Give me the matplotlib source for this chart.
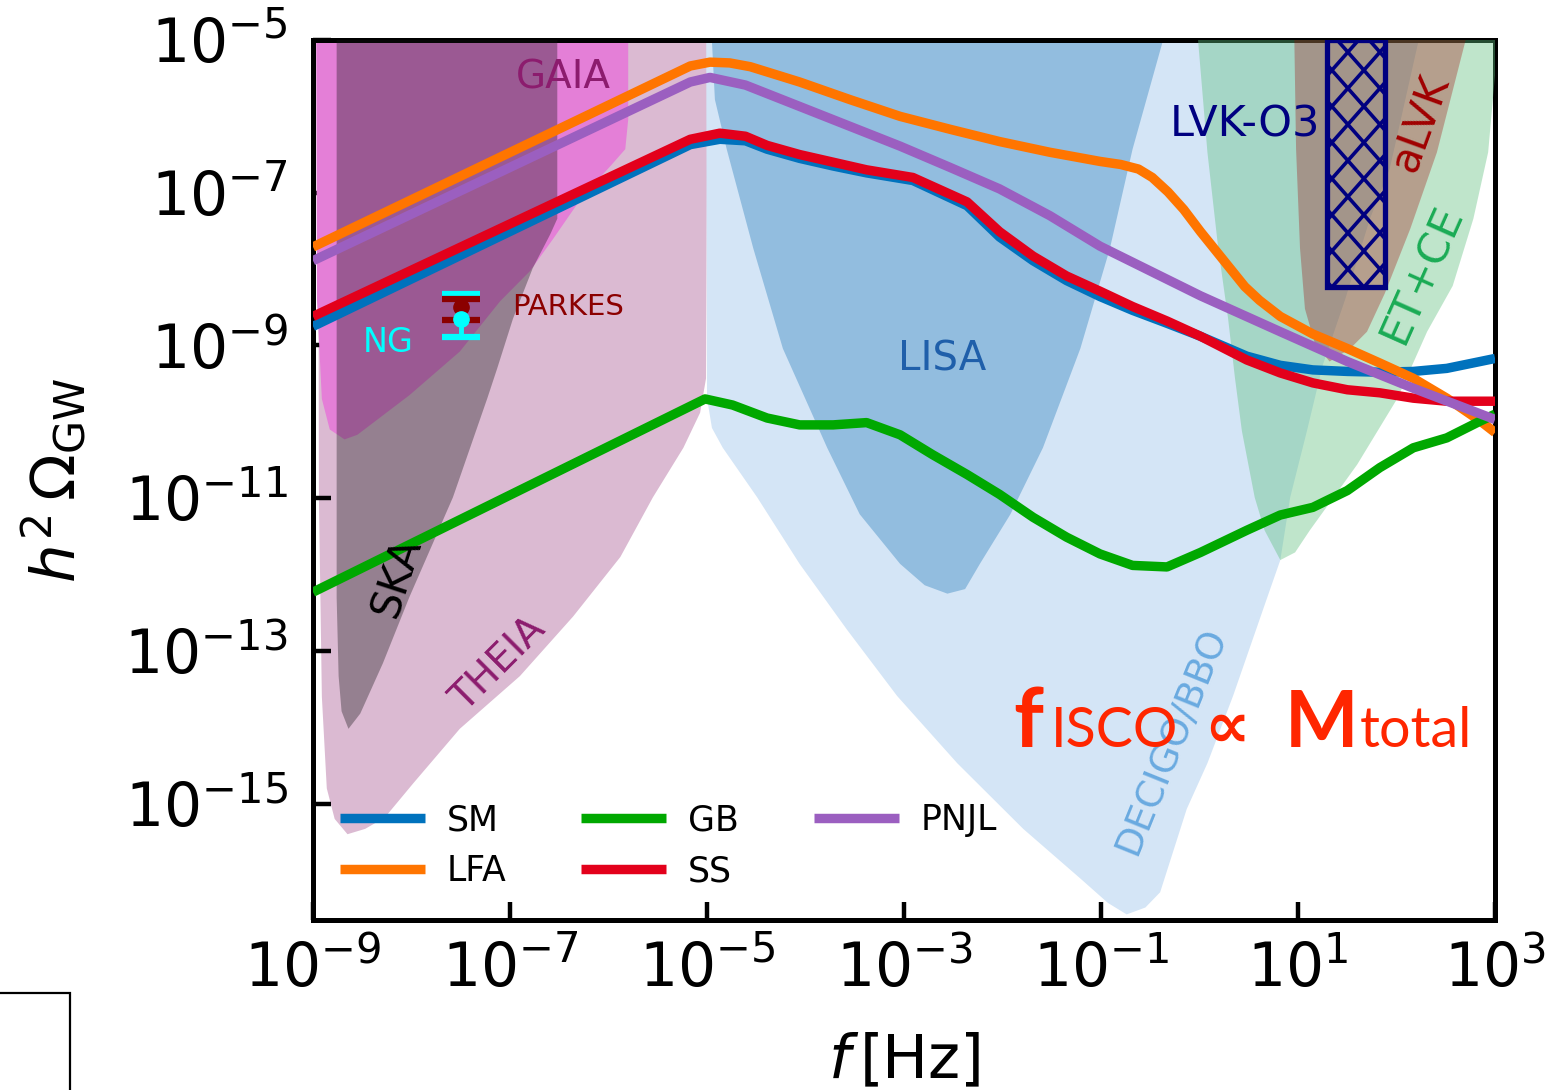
import numpy as np
import matplotlib
matplotlib.use("Agg")
import matplotlib.pyplot as plt
from matplotlib.patches import Rectangle

# everything below is log10(f / Hz) and log10(h^2 Omega_GW)

# detector sensitivity regions
theia_logf = [-8.95, -8.94, -8.91, -8.86, -8.78, -8.65, -8.47, -8.27, -7.98, -7.51,
              -6.90, -6.36, -5.88, -5.55, -5.24, -5.07, -5.01, -4.99]
theia_logom = [-4.0, -11.0, -13.6, -14.8, -15.2, -15.4, -15.33, -15.18, -14.73, -14.02,
               -13.33, -12.55, -11.77, -10.99, -10.34, -9.88, -9.43, -4.0]

gaia_logf = [-8.97, -8.96, -8.91, -8.83, -8.68, -8.55, -8.02, -7.51, -7.10, -6.80,
             -6.56, -6.26, -5.98, -5.83, -5.80, -5.80]
gaia_logom = [-4.0, -8.4, -9.7, -10.1, -10.23, -10.17, -9.65, -9.08, -8.42, -8.03,
              -7.60, -7.04, -6.65, -6.43, -6.04, -4.0]

ska_logf = [-8.76, -8.76, -8.74, -8.71, -8.64, -8.52, -8.29, -8.02, -7.58, -7.23,
            -7.13, -6.97, -6.77, -6.59, -6.52, -6.52]
ska_logom = [-4.0, -12.3, -13.33, -13.79, -14.02, -13.82, -13.16, -12.29, -10.99, -9.69,
             -9.30, -8.65, -7.99, -7.54, -7.34, -4.0]

decigo_logf = [-5.01, -5.00, -4.95, -4.84, -4.49, -4.06, -3.58, -3.07, -2.46, -1.79,
               -1.21, -0.93, -0.74, -0.55, -0.40, -0.13, 0.08, 0.34, 0.69, 0.82,
               0.92, 1.09, 1.25, 1.48, 1.73, 1.93, 2.4]
decigo_logom = [-4.0, -9.69, -10.08, -10.34, -10.99, -11.86, -12.72, -13.59, -14.47, -15.33,
                -15.98, -16.3, -16.45, -16.36, -16.16, -15.07, -14.47, -13.59, -12.29, -11.81,
                -10.99, -10.12, -9.26, -8.39, -7.34, -6.69, -4.0]

lisa_logf = [-4.99, -4.92, -4.80, -4.53, -4.23, -3.78, -3.45, -3.04, -2.79, -2.56,
             -2.38, -2.23, -1.92, -1.59, -1.21, -0.91, -0.68, -0.37, -0.25]
lisa_logom = [-4.0, -5.78, -6.43, -7.73, -9.04, -10.34, -11.21, -11.86, -12.14, -12.25,
              -12.19, -11.86, -11.21, -10.34, -9.04, -7.73, -6.43, -5.0, -4.0]

etce_logf = [-0.08, 0.08, 0.19, 0.29, 0.36, 0.43, 0.56, 0.66, 0.82, 0.97,
             1.12, 1.60, 2.01, 2.31, 2.57, 2.78, 2.93, 3.1]
etce_logom = [-4.0, -6.47, -7.73, -8.65, -9.43, -10.12, -10.99, -11.42, -11.81, -11.71,
              -11.42, -10.56, -9.69, -8.82, -8.22, -7.34, -6.47, -4.0]

alvk_logf = [0.95, 0.98, 1.02, 1.07, 1.17, 1.32, 1.53, 1.70, 1.88, 2.14, 2.41, 2.9]
alvk_logom = [-4.0, -6.43, -7.73, -8.52, -8.97, -9.21, -9.04, -8.82, -8.32, -7.47, -6.47, -4.0]

# LVK O3 upper limit box (Hz, h^2 Omega)
lvk_f = [19.5, 76.0]
lvk_om = [5.8e-9, 1e-5]

# PTA points: f, central value, lower, upper (log10)
ng_f, ng_om, ng_lo, ng_hi = 3.2e-8, -8.65, -8.89, -8.33
parkes_f, parkes_om, parkes_lo, parkes_hi = 3.2e-8, -8.49, -8.66, -8.39

# spectra
sm_logf = [-9.0, -5.17, -4.87, -4.61, -4.39, -4.06, -3.72, -3.38, -2.91, -2.36,
           -2.03, -1.69, -1.35, -1.01, -0.68, -0.33, 0.01, 0.48, 0.82, 1.15,
           1.50, 1.83, 2.17, 2.51, 2.85, 3.0]
sm_logom = [-8.75, -6.37, -6.30, -6.32, -6.43, -6.55, -6.65, -6.74, -6.84, -7.17,
            -7.58, -7.89, -8.15, -8.36, -8.54, -8.71, -8.88, -9.14, -9.26, -9.32,
            -9.34, -9.35, -9.34, -9.30, -9.21, -9.17]

ss_logf = [-9.0, -5.17, -4.87, -4.61, -4.39, -4.06, -3.72, -3.38, -2.91, -2.36,
           -2.03, -1.69, -1.35, -1.01, -0.68, -0.33, 0.01, 0.48, 0.82, 1.15,
           1.50, 1.83, 2.17, 2.51, 3.0]
ss_logom = [-8.62, -6.30, -6.22, -6.26, -6.38, -6.50, -6.60, -6.70, -6.80, -7.12,
            -7.51, -7.83, -8.09, -8.29, -8.49, -8.68, -8.88, -9.19, -9.36, -9.49,
            -9.58, -9.62, -9.69, -9.73, -9.73]

lfa_logf = [-9.0, -5.17, -4.97, -4.77, -4.56, -4.06, -3.55, -3.04, -2.53, -2.03,
            -1.52, -1.01, -0.80, -0.62, -0.48, -0.32, -0.16, 0.01, 0.31, 0.46,
            0.61, 0.82, 1.15, 1.50, 1.83, 2.17, 2.51, 2.85, 3.0]
lfa_logom = [-7.71, -5.34, -5.29, -5.30, -5.35, -5.55, -5.78, -6.00, -6.17, -6.33,
             -6.47, -6.59, -6.63, -6.69, -6.80, -6.99, -7.22, -7.51, -7.99, -8.23,
             -8.41, -8.62, -8.85, -9.04, -9.23, -9.43, -9.69, -9.99, -10.14]

pnjl_logf = [-9.0, -5.17, -4.97, -4.61, -4.06, -3.55, -3.04, -2.53, -2.03, -1.52,
             -1.01, 0.01, 0.82, 1.50, 2.17, 3.0]
pnjl_logom = [-7.89, -5.55, -5.49, -5.59, -5.87, -6.13, -6.39, -6.67, -6.95, -7.30,
              -7.70, -8.35, -8.82, -9.21, -9.56, -9.97]

gb_logf = [-9.0, -5.02, -4.74, -4.39, -4.06, -3.72, -3.38, -3.04, -2.71, -2.36,
           -2.03, -1.69, -1.35, -1.01, -0.68, -0.33, 0.01, 0.48, 0.82, 1.15,
           1.50, 1.83, 2.17, 2.51, 2.85, 3.0]
gb_logom = [-12.23, -9.70, -9.78, -9.95, -10.04, -10.04, -10.01, -10.17, -10.43, -10.69,
            -10.95, -11.25, -11.51, -11.73, -11.88, -11.90, -11.71, -11.42, -11.22, -11.12,
            -10.90, -10.60, -10.34, -10.21, -9.99, -9.90]

curve_names = ["SM", "LFA", "GB", "SS", "PNJL"]
curve_colors = ["#0072bd", "#ff7500", "#00a800", "#e3001b", "#9b5fc0"]


def p(a):
    return 10 ** np.asarray(a)


fig = plt.figure(figsize=(15.58, 10.90), dpi=100)
ax = fig.add_axes([0.2009, 0.156, 0.7587, 0.8073])
ax.set_xscale("log")
ax.set_yscale("log")
ax.set_xlim(1e-9, 1e3)
ax.set_ylim(3e-17, 1e-5)

# regions
ax.fill(p(theia_logf), p(theia_logom), color="#dbbad2", lw=0, zorder=1)
ax.fill(p(gaia_logf), p(gaia_logom), color="#e47fd7", lw=0, zorder=2)
ax.fill(p(ska_logf), p(ska_logom), color="#151415", alpha=0.35, lw=0, zorder=3)
ax.fill(p(decigo_logf), p(decigo_logom), color="#d4e5f6", lw=0, zorder=1)
ax.fill(p(lisa_logf), p(lisa_logom), color="#92bddf", lw=0, zorder=2)
ax.fill(p(etce_logf), p(etce_logom), color="#5fc07f", alpha=0.4, lw=0, zorder=3)
ax.fill(p(alvk_logf), p(alvk_logom), color="#a00000", alpha=0.3, lw=0, zorder=4)

# LVK-O3 box with a coarse cross hatch
box = Rectangle((lvk_f[0], lvk_om[0]), lvk_f[1] - lvk_f[0], lvk_om[1] - lvk_om[0],
                fill=False, edgecolor="#000080", lw=3.8, zorder=6)
ax.add_patch(box)
(x0d, y0d), (x1d, y1d) = ax.transData.transform([(lvk_f[0], lvk_om[0]), (lvk_f[1], lvk_om[1])])
inv = ax.transData.inverted()
step, slope = 32.0, 1.13
h = y1d - y0d
for sgn in (1, -1):
    c = x0d - h / slope - step
    while c < x1d + h / slope + step:
        seg = inv.transform([(c, y0d), (c + sgn * h / slope, y1d)])
        ln, = ax.plot(seg[:, 0], seg[:, 1], color="#000080", lw=2.6, zorder=6)
        ln.set_clip_path(box)
        c += step

# spectra
curve_data = [(sm_logf, sm_logom), (lfa_logf, lfa_logom), (gb_logf, gb_logom),
              (ss_logf, ss_logom), (pnjl_logf, pnjl_logom)]
handles = []
for (lf, lo), name, col in zip(curve_data, curve_names, curve_colors):
    ln, = ax.plot(p(lf), p(lo), color=col, lw=6.8, label=name, zorder=7,
                  solid_capstyle="butt", solid_joinstyle="round")
    handles.append(ln)

# PTA data
ax.errorbar([ng_f], [10 ** ng_om],
            yerr=[[10 ** ng_om - 10 ** ng_lo], [10 ** ng_hi - 10 ** ng_om]],
            fmt="none", ecolor="cyan", elinewidth=3.5, capsize=14, capthick=4.5, zorder=8)
ax.errorbar([parkes_f], [10 ** parkes_om],
            yerr=[[10 ** parkes_om - 10 ** parkes_lo], [10 ** parkes_hi - 10 ** parkes_om]],
            fmt="o", color="#8b0000", ms=11, elinewidth=3.5, capsize=14, capthick=4.5, zorder=9)
ax.plot([ng_f], [10 ** ng_om], "o", color="cyan", ms=11, zorder=10)

# labels on the regions
ax.text(p(-6.46), p(-5.49), "GAIA", color="#8c1c6e", fontsize=28, ha="center", va="center", zorder=11)
ax.text(p(-6.41), p(-8.49), "PARKES", color="#8b0000", fontsize=21, ha="center", va="center", zorder=11)
ax.text(p(-8.24), p(-8.96), "NG", color="cyan", fontsize=24, ha="center", va="center", zorder=11)
ax.text(p(-8.15), p(-12.03), "SKA", color="black", fontsize=30, rotation=72, ha="center", va="center", zorder=11)
ax.text(p(-7.12), p(-13.18), "THEIA", color="#8c1c6e", fontsize=28, rotation=45, ha="center", va="center", zorder=11)
ax.text(p(-2.61), p(-9.19), "LISA", color="#1f5faa", fontsize=29, ha="center", va="center", zorder=11)
ax.text(p(-0.28), p(-14.18), "DECIGO/BBO", color="#6aaae0", fontsize=27, rotation=68, ha="center", va="center", zorder=11)
ax.text(p(0.46), p(-6.11), "LVK-O3", color="#000080", fontsize=31, ha="center", va="center", zorder=11)
ax.text(p(2.24), p(-6.08), "aLVK", color="#a00000", fontsize=30, rotation=70, ha="center", va="center", zorder=11)
ax.text(p(2.26), p(-8.06), "ET+CE", color="#1aab55", fontsize=31, rotation=66, ha="center", va="center", zorder=11)

ax.legend(handles=handles, ncol=3, loc="lower left", bbox_to_anchor=(0.011, 0.02),
          frameon=False, fontsize=25, handlelength=2.45, handletextpad=0.63,
          columnspacing=2.15, borderaxespad=0)

# axes styling
ax.set_xticks([1e-9, 1e-7, 1e-5, 1e-3, 1e-1, 1e1, 1e3])
ax.set_yticks([1e-15, 1e-13, 1e-11, 1e-9, 1e-7, 1e-5])
ax.minorticks_off()
ax.tick_params(axis="both", direction="in", length=13, width=3.2, labelsize=43,
               top=False, right=False)
ax.tick_params(axis="x", pad=15)
ax.tick_params(axis="y", pad=18)
for s in ax.spines.values():
    s.set_linewidth(3.6)
ax.set_xlabel(r"$f\,$[Hz]", fontsize=44)
ax.set_ylabel(r"$h^2\,\Omega_{\rm GW}$", fontsize=44)
ax.xaxis.set_label_coords(0.5, -0.128)
ax.yaxis.set_label_coords(-0.19, 0.5)

# overlaid annotation
fam = ["Lato", "DejaVu Sans"]
red = "#ff2600"
yb = 1 - 747 / 1090
fig.text(1013 / 1558, yb, "f", color=red, fontsize=60, family=fam, va="baseline", weight="bold")
fig.text(1051 / 1558, yb, "ISCO", color=red, fontsize=40, family=fam, va="baseline")
fig.text(1204 / 1558, yb, "\u221d", color=red, fontsize=46, family="DejaVu Sans", va="baseline", weight="bold")
fig.text(1285 / 1558, yb, "M", color=red, fontsize=56, family=fam, va="baseline", weight="bold")
fig.text(1360 / 1558, yb, "total", color=red, fontsize=40, family=fam, va="baseline")

# stray frame edge in the bottom-left corner of the original screenshot
fig.patches.append(Rectangle((-0.01, -0.01), 70 / 1558 + 0.01, 1 - 993 / 1090 + 0.01,
                             transform=fig.transFigure, fill=False, lw=1.6,
                             edgecolor="black"))

fig.savefig("out.png", dpi=100)
